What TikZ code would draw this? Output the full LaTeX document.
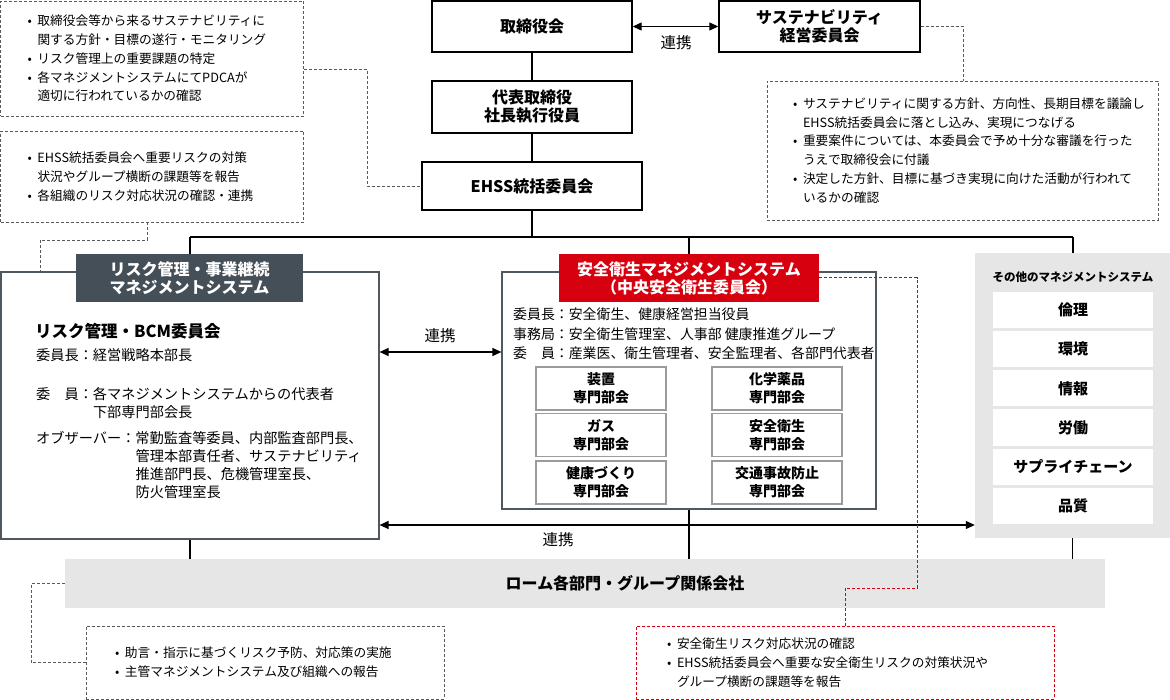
\documentclass[tikz,border=0pt]{standalone}
\usepackage{fontspec}
\setmainfont{Noto Sans CJK JP}
\usetikzlibrary{arrows.meta}
\definecolor{riskhd}{HTML}{454F58}
\definecolor{ssred}{HTML}{D7000F}
\definecolor{bggray}{HTML}{E6E6E6}
\definecolor{sysgray}{HTML}{50585F}
\definecolor{subgray}{HTML}{9B9B9B}
\definecolor{dashgray}{HTML}{5A5A5A}
\newcommand{\bul}{\makebox[10pt][l]{•}}
\newcommand{\ind}{\hspace*{10pt}}
\begin{document}
\begin{tikzpicture}[x=1pt, y=-1pt,
  topbox/.style={draw, line width=1.4pt, inner sep=0pt, align=center,
                 font=\bfseries\fontsize{16}{18}\selectfont},
  note/.style={draw=dashgray, dash pattern=on 3pt off 2pt, line width=0.9pt,
               align=left, inner ysep=0pt, font=\fontsize{12.7}{18.8}\selectfont},
  rnote/.style={note, draw=ssred},
  head/.style={fill=#1, text=white, inner sep=0pt, align=center,
               minimum height=48pt, font=\bfseries\fontsize{16}{18}\selectfont},
  sysbox/.style={draw=sysgray, line width=1.2pt, inner sep=0pt},
  sub/.style={draw=subgray, line width=1.2pt, minimum width=130pt, minimum height=43pt,
              inner sep=0pt, align=center, font=\bfseries\fontsize{14}{18}\selectfont},
  item/.style={fill=white, minimum width=160pt, minimum height=36pt, inner sep=0pt,
               font=\bfseries\fontsize{15}{18}\selectfont},
  body/.style={inner sep=0pt, align=left, font=\fontsize{14.2}{18}\selectfont},
  lbl/.style={inner sep=0pt, font=\fontsize{15.5}{18}\selectfont},
  link/.style={line width=1.2pt},
  biarr/.style={link, {Triangle[length=9pt,width=8pt]}-{Triangle[length=9pt,width=8pt]}},
  dline/.style={draw=dashgray, dash pattern=on 3pt off 2pt, line width=0.9pt},
  rline/.style={dline, draw=ssred, line width=1pt}
]
  \useasboundingbox (0,0) rectangle (1170,700);

  % Top: board, president, EHSS
  \node[topbox, minimum width=200pt, minimum height=51pt] (board) at (532,26.5) {取締役会};
  \node[topbox, minimum width=200pt, minimum height=52pt] (ceo) at (532,107) {代表取締役\\社長執行役員};
  \node[topbox, minimum width=220pt, minimum height=48pt] (ehss) at (532,186) {EHSS統括委員会};
  \node[topbox, minimum width=201pt, minimum height=51pt] (sust) at (819.5,26.5) {サステナビリティ\\経営委員会};
  \draw[link] (board) -- (ceo);
  \draw[link] (ceo) -- (ehss);
  \draw[biarr] (board) -- (sust);
  \node[lbl] (lnkTop) at (676,43) {連携};

  % Notes (top)
  \node[note, text width=249pt, inner xsep=27pt, minimum height=115pt] (noteA) at (152,58.5) {%
    \bul 取締役会等から来るサステナビリティに\\
    \ind 関する方針・目標の遂行・モニタリング\\
    \bul リスク管理上の重要課題の特定\\
    \bul 各マネジメントシステムにてPDCAが\\
    \ind 適切に行われているかの確認};
  \node[note, text width=249pt, inner xsep=27pt, minimum height=91pt] (noteB) at (152,176.5) {%
    \bul EHSS統括委員会へ重要リスクの対策\\
    \ind 状況やグループ横断の課題等を報告\\
    \bul 各組織のリスク対応状況の確認・連携};
  \node[note, text width=339pt, inner xsep=26pt, minimum height=139pt] (noteC) at (962.5,150.5) {%
    \bul サステナビリティに関する方針、方向性、長期目標を議論し\\
    \ind EHSS統括委員会に落とし込み、実現につなげる\\
    \bul 重要案件については、本委員会で予め十分な審議を行った\\
    \ind うえで取締役会に付議\\
    \bul 決定した方針、目標に基づき実現に向けた活動が行われて\\
    \ind いるかの確認};

  % Dashed links (top)
  \coordinate (jA) at (367,69);
  \draw[dline] (noteA.east |- jA) -- (jA) |- (ehss.west);
  \coordinate (jB1) at (147,240);
  \coordinate (jB2) at (40,240);
  \draw[dline] (noteB.south -| jB1) -- (jB1) -- (jB2) -- (jB2 |- 0,271);
  \coordinate (jC) at (963,26.5);
  \draw[dline] (sust) -- (jC) -- (jC |- noteC.north);

  % Background fills
  \node[fill=bggray, minimum width=195pt, minimum height=285pt, inner sep=0pt] (otherbox) at (1072.5,395.5) {};
  \node[fill=bggray, minimum width=1040pt, minimum height=49pt, inner sep=0pt] (group) at (585,583.5) {};
  \node[inner sep=0pt, font=\bfseries\fontsize{16}{18}\selectfont] (grouplbl) at (625,583.5) {ローム各部門・グループ関係会社};

  % Bus
  \coordinate (busL) at (190,237);
  \coordinate (busR) at (1073,237);
  \draw[link] (ehss) -- (ehss |- busL);
  \draw[link] (busL) -- (busR);

  % Risk management system
  \node[sysbox, minimum width=378pt, minimum height=267pt] (riskbox) at (190,405.5) {};
  \node[head=riskhd, minimum width=227pt] (riskhead) at (189.5,278) {リスク管理・事業継続\\マネジメントシステム};
  \draw[link] (busL) -- (busL |- riskhead.north);
  \node[inner sep=0pt, anchor=west, font=\bfseries\fontsize{16.5}{18}\selectfont] (rtitle) at (35,331) {リスク管理・BCM委員会};
  \node[body, anchor=west] (rchair) at (36,355) {委員長：経営戦略本部長};
  \node[body, anchor=north west] (rmem) at (36,387) {委　員：各マネジメントシステムからの代表者\\\hspace*{4em}下部専門部会長};
  \node[body, anchor=north west] (robs) at (36,431) {オブザーバー：常勤監査等委員、内部監査部門長、\\
    \hspace*{7em}管理本部責任者、サステナビリティ\\
    \hspace*{7em}推進部門長、危機管理室長、\\
    \hspace*{7em}防火管理室長};

  % Safety and health management system
  \node[sysbox, minimum width=374pt, minimum height=237pt] (safebox) at (689,390.5) {};
  \node[head=ssred, minimum width=260pt] (safehead) at (689,278) {安全衛生マネジメントシステム\\（中央安全衛生委員会）};
  \draw[link] (safehead.north |- busL) -- (safehead);
  \node[body, anchor=north west, font=\fontsize{13.9}{19.5}\selectfont] (smem) at (513,308) {%
    委員長：安全衛生、健康経営担当役員\\
    事務局：安全衛生管理室、人事部 健康推進グループ\\
    委　員：産業医、衛生管理者、安全監理者、各部門代表者};
  \node[sub] (subA) at (601,388.5) {装置\\専門部会};
  \node[sub] (subB) at (777,388.5) {化学薬品\\専門部会};
  \node[sub] (subC) at (601,435) {ガス\\専門部会};
  \node[sub] (subD) at (777,435) {安全衛生\\専門部会};
  \node[sub] (subE) at (601,482.5) {健康づくり\\専門部会};
  \node[sub] (subF) at (777,482.5) {交通事故防止\\専門部会};

  % Other management systems
  \draw[link] (busR) -- (busR |- otherbox.north);
  \node[inner sep=0pt, font=\bfseries\fontsize{11.5}{14}\selectfont] (othtitle) at (1073,277) {その他のマネジメントシステム};
  \node[item] (ethics) at (1073,310) {倫理};
  \node[item] (env) at (1073,349) {環境};
  \node[item] (info) at (1073,388.5) {情報};
  \node[item] (labor) at (1073,427.5) {労働};
  \node[item] (supply) at (1073,467) {サプライチェーン};
  \node[item] (quality) at (1073,506) {品質};

  % Links between systems
  \draw[biarr] (riskbox.east |- 0,352) -- (safebox.west |- 0,352);
  \node[lbl] (lnkMid) at (440,336) {連携};
  \draw[biarr] (riskbox.east |- 0,525) -- (otherbox.west |- 0,525);
  \node[lbl] (lnkLow) at (558,540) {連携};

  % Down to group companies
  \draw[link] (riskbox) -- (riskbox |- group.north);
  \draw[link] (safebox) -- (safebox |- group.north);
  \draw[link] (otherbox) -- (otherbox |- group.north);

  % Notes (bottom)
  \node[note, text width=300pt, inner xsep=29pt, minimum height=73pt] (noteD) at (265,662.5) {%
    \bul 助言・指示に基づくリスク予防、対応策の実施\\
    \bul 主管マネジメントシステム及び組織への報告};
  \node[rnote, text width=356pt, inner xsep=31pt, minimum height=73pt] (noteE) at (845,662.5) {%
    \bul 安全衛生リスク対応状況の確認\\
    \bul EHSS統括委員会へ重要な安全衛生リスクの対策状況や\\
    \ind グループ横断の課題等を報告};
  \coordinate (jD) at (31,583.5);
  \draw[dline] (group.west) -- (jD) |- (noteD.west);
  \coordinate (jE1) at (917,278);
  \coordinate (jE2) at (845,588);
  \draw[rline] (safehead.east) -- (jE1) |- (jE2) -- (noteE.north);
\end{tikzpicture}
\end{document}
